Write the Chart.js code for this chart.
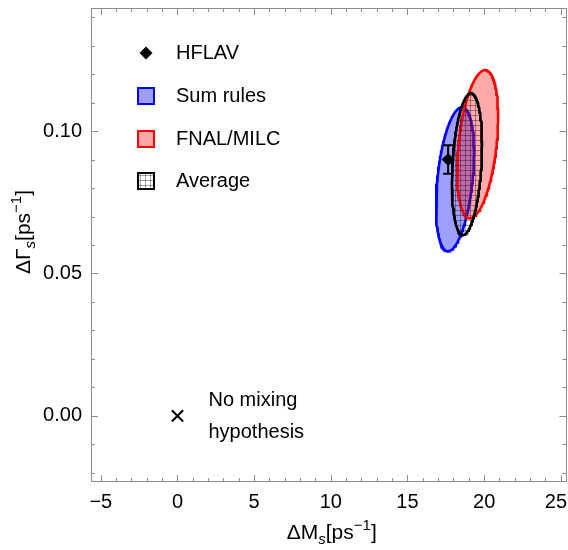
<!DOCTYPE html>
<html>
<head>
<meta charset="utf-8">
<script src="https://cdn.jsdelivr.net/npm/chart.js@4.4.1/dist/chart.umd.min.js"></script>
<style>
  html, body { margin: 0; padding: 0; background: #fff; overflow: hidden; }
  canvas { display: block; }
</style>
</head>
<body>
<canvas id="graph" width="568" height="550"></canvas>
<script>
// confidence ellipses: centre, half extent along each axis, correlation
const ellipseNames = ["Sum rules", "FNAL/MILC", "Average"];
const centerDM = [18.10, 19.57, 18.88];
const centerDG = [0.0831, 0.0954, 0.0884];
const halfDM = [1.24, 1.34, 0.98];
const halfDG = [0.0253, 0.0260, 0.0249];
const corr = [0.37, 0.37, 0.27];

// HFLAV measurement
const hflavDM = [17.65];
const hflavDG = [0.090];
const hflavErr = [0.005];

// no mixing hypothesis
const noMixDM = [0];
const noMixDG = [0];

// axis ticks
const xTicks = [-5, 0, 5, 10, 15, 20, 25];
const yTicks = [0, 0.05, 0.10];

const FONT = "'Liberation Sans', Arial, Helvetica, sans-serif";
const FRAME = "#8c8c8c";

const canvas = document.getElementById("graph");
const ctx = canvas.getContext("2d");

function ellipsePoints(i) {
  const pts = [];
  const n = 160;
  const s = Math.sqrt(1 - corr[i] * corr[i]);
  for (let k = 0; k <= n; k++) {
    const t = (2 * Math.PI * k) / n;
    pts.push({
      x: centerDM[i] + halfDM[i] * Math.cos(t),
      y: centerDG[i] + halfDG[i] * (corr[i] * Math.cos(t) + s * Math.sin(t)),
    });
  }
  return pts;
}

function gridPattern(bg) {
  const c = document.createElement("canvas");
  c.width = 5;
  c.height = 5;
  const g = c.getContext("2d");
  if (bg) {
    g.fillStyle = bg;
    g.fillRect(0, 0, 5, 5);
  }
  g.fillStyle = "rgba(0,0,0,0.36)";
  g.fillRect(0, 0, 5, 1);
  g.fillRect(0, 0, 1, 5);
  return ctx.createPattern(c, "repeat");
}

function fmtX(v) {
  return v < 0 ? "\u2212" + Math.abs(v) : String(v);
}

// text with sub/superscripts, parts drawn one after another
function richText(c, parts, x, y) {
  let w = 0;
  parts.forEach((p) => {
    c.font = (p.italic ? "italic " : "") + p.size + "px " + FONT;
    p.w = c.measureText(p.t).width;
    w += p.w;
  });
  let cx = x - w / 2;
  c.textAlign = "left";
  c.textBaseline = "alphabetic";
  c.fillStyle = "#000";
  parts.forEach((p) => {
    c.font = (p.italic ? "italic " : "") + p.size + "px " + FONT;
    c.fillText(p.t, cx, y + (p.dy || 0));
    cx += p.w;
  });
}

const titleParts = (sym) => [
  { t: "\u0394" + sym, size: 21 },
  { t: "s", size: 15, dy: 5, italic: true },
  { t: "[ps", size: 21 },
  { t: "\u22121", size: 15, dy: -9 },
  { t: "]", size: 21 },
];

const decor = {
  id: "decor",
  afterDraw(chart) {
    const c = chart.ctx;
    const a = chart.chartArea;
    const xs = chart.scales.x;
    const ys = chart.scales.y;
    c.save();

    // frame
    c.strokeStyle = FRAME;
    c.lineWidth = 1;
    c.strokeRect(Math.round(a.left) + 0.5, Math.round(a.top) + 0.5,
      Math.round(a.right - a.left) - 1, Math.round(a.bottom - a.top) - 1);

    // inward ticks on all four sides
    c.beginPath();
    for (let v = -5; v <= 25; v++) {
      const len = v % 5 === 0 ? 7 : 4;
      const px = Math.round(xs.getPixelForValue(v)) + 0.5;
      c.moveTo(px, a.bottom); c.lineTo(px, a.bottom - len);
      c.moveTo(px, a.top); c.lineTo(px, a.top + len);
    }
    for (let k = -2; k <= 14; k++) {
      const len = k % 5 === 0 ? 7 : 4;
      const py = Math.round(ys.getPixelForValue(k / 100)) + 0.5;
      c.moveTo(a.left, py); c.lineTo(a.left + len, py);
      c.moveTo(a.right, py); c.lineTo(a.right - len, py);
    }
    c.stroke();

    // tick labels (kept inside the canvas at the right edge)
    c.font = "20px " + FONT;
    c.fillStyle = "#000";
    c.textAlign = "center";
    c.textBaseline = "middle";
    xTicks.forEach((v) => {
      const label = fmtX(v);
      const half = c.measureText(label).width / 2;
      const px = Math.min(xs.getPixelForValue(v), chart.width - 1 - half);
      c.fillText(label, px, a.bottom + 20);
    });
    c.textAlign = "right";
    yTicks.forEach((v) => c.fillText(v.toFixed(2), a.left - 9, ys.getPixelForValue(v)));

    // axis titles
    richText(c, titleParts("M"), (a.left + a.right) / 2 + 3, 539);
    c.save();
    c.translate(30, 232);
    c.rotate(-Math.PI / 2);
    richText(c, titleParts("\u0393"), 0, 0);
    c.restore();

    // legend
    c.font = "20px " + FONT;
    c.textAlign = "left";
    c.textBaseline = "middle";
    c.fillStyle = "#000";
    const lx = 146, tx = 176;
    const rows = [53, 96, 139, 181];
    c.beginPath();
    c.moveTo(lx, rows[0] - 6.5); c.lineTo(lx + 6.5, rows[0]);
    c.lineTo(lx, rows[0] + 6.5); c.lineTo(lx - 6.5, rows[0]);
    c.closePath();
    c.fill();
    c.fillText("HFLAV", tx, rows[0]);
    const boxFill = ["rgba(0,0,255,0.38)", "rgba(255,0,0,0.35)", gridPattern("#fff")];
    const boxLine = ["#0000ff", "#ff0000", "#000"];
    for (let i = 0; i < 3; i++) {
      const y = rows[i + 1];
      c.fillStyle = boxFill[i];
      c.fillRect(lx - 8, y - 8, 16, 16);
      c.strokeStyle = boxLine[i];
      c.lineWidth = 2;
      c.strokeRect(lx - 8, y - 8, 16, 16);
      c.fillStyle = "#000";
      c.fillText(ellipseNames[i], tx, y);
    }

    // no mixing label
    const nx = xs.getPixelForValue(noMixDM[0]);
    const ny = ys.getPixelForValue(noMixDG[0]);
    c.fillText("No mixing", nx + 31, ny - 15);
    c.fillText("hypothesis", nx + 31, ny + 17);

    c.restore();
  },
};

const datasets = [];
const lineColors = ["#0000ff", "#ff0000", "#000000"];
const fillColors = ["rgba(0,0,255,0.38)", "rgba(255,0,0,0.33)", gridPattern(null)];
const orders = [4, 3, 2];
for (let i = 0; i < 3; i++) {
  datasets.push({
    label: ellipseNames[i],
    data: ellipsePoints(i),
    showLine: true,
    borderColor: lineColors[i],
    borderWidth: 2.6,
    backgroundColor: fillColors[i],
    fill: "shape",
    pointRadius: 0,
    tension: 0,
    order: orders[i],
  });
}

datasets.push({
  label: "HFLAV error",
  data: [
    { x: hflavDM[0], y: hflavDG[0] - hflavErr[0] },
    { x: hflavDM[0], y: hflavDG[0] + hflavErr[0] },
  ],
  showLine: true,
  borderColor: "#000",
  borderWidth: 2,
  pointStyle: "line",
  pointRadius: 5,
  pointBorderWidth: 2,
  pointBorderColor: "#000",
  order: 1,
});

datasets.push({
  label: "HFLAV",
  data: [{ x: hflavDM[0], y: hflavDG[0] }],
  pointStyle: "rectRot",
  pointRadius: 6.5,
  pointBackgroundColor: "#000",
  pointBorderWidth: 0,
  order: 0,
});

datasets.push({
  label: "No mixing",
  data: [{ x: noMixDM[0], y: noMixDG[0] }],
  pointStyle: "crossRot",
  pointRadius: 8,
  pointBorderColor: "#000",
  pointBorderWidth: 2,
  order: 0,
});

new Chart(canvas, {
  type: "scatter",
  data: { datasets: datasets },
  options: {
    responsive: false,
    animation: false,
    layout: { autoPadding: false, padding: { top: 8, right: 1.5, left: 0, bottom: 0 } },
    plugins: { legend: { display: false }, tooltip: { enabled: false } },
    scales: {
      x: {
        type: "linear",
        min: -5.64,
        max: 25.37,
        grid: { display: false, drawTicks: false },
        border: { display: false },
        ticks: { display: false },
        afterFit(s) { s.height = 68; },
      },
      y: {
        type: "linear",
        min: -0.0232,
        max: 0.1432,
        grid: { display: false, drawTicks: false },
        border: { display: false },
        ticks: { display: false },
        afterFit(s) { s.width = 91; },
      },
    },
  },
  plugins: [decor],
});
</script>
</body>
</html>
